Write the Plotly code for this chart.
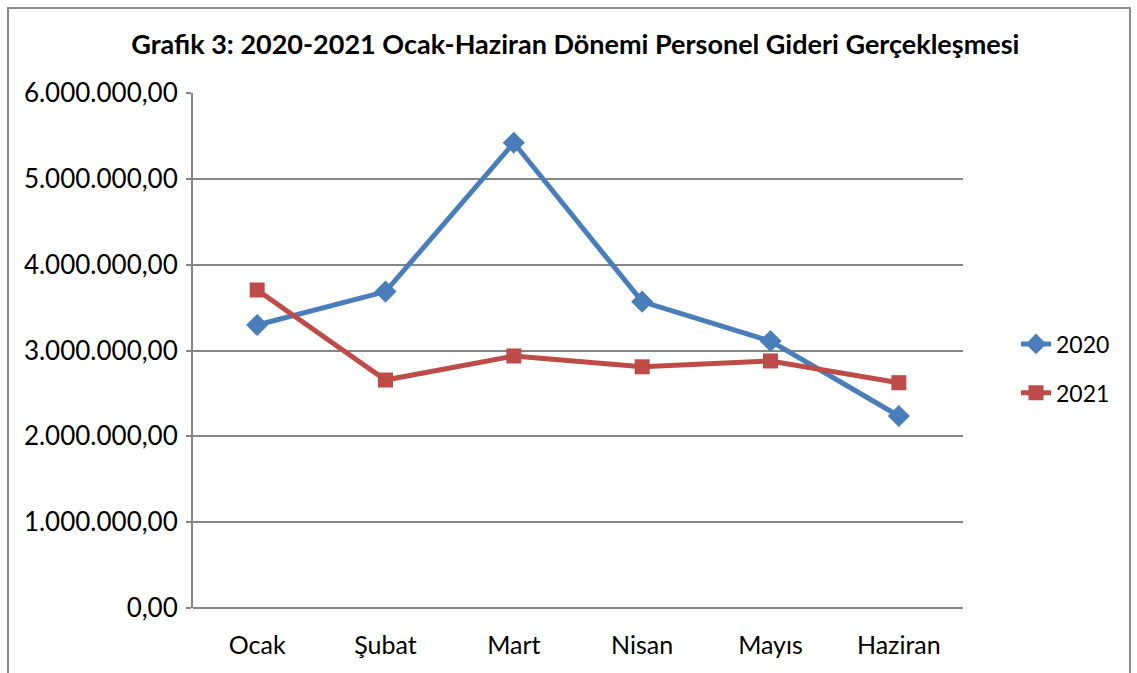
import plotly.graph_objects as go

months = ["Ocak", "Şubat", "Mart", "Nisan", "Mayıs", "Haziran"]
values_2020 = [3297000, 3686000, 5420000, 3569000, 3110000, 2237000]
values_2021 = [3705000, 2656000, 2936000, 2810000, 2878000, 2625000]
y_tickvals = [0, 1000000, 2000000, 3000000, 4000000, 5000000, 6000000]
y_ticktext = ["0,00", "1.000.000,00", "2.000.000,00", "3.000.000,00",
              "4.000.000,00", "5.000.000,00", "6.000.000,00"]
title_text = "Grafik 3: 2020-2021 Ocak-Haziran Dönemi Personel Gideri Gerçekleşmesi"

FONT = "Lato, 'Open Sans', sans-serif"
BLUE = "#4A7EBB"
RED = "#BE4B48"
GRID = "#868686"

fig = go.Figure()
fig.add_trace(go.Scatter(
    x=months, y=values_2020, name="2020", mode="lines+markers",
    legendgroup="a",
    line=dict(color=BLUE, width=5),
    marker=dict(symbol="diamond", size=17, color=BLUE),
))
fig.add_trace(go.Scatter(
    x=months, y=values_2021, name="2021", mode="lines+markers",
    legendgroup="b",
    line=dict(color=RED, width=5),
    marker=dict(symbol="square", size=15, color=RED),
))

L, R, T, B = 193, 174, 93, 65
W, H = 1137, 673
pw = W - L - R
ph = H - T - B

fig.update_layout(
    width=W, height=H,
    margin=dict(l=L, r=R, t=T, b=B, autoexpand=False),
    paper_bgcolor="white", plot_bgcolor="white",
    font=dict(family=FONT, size=24, color="black"),
    title=dict(text="<b>" + title_text + "</b>", x=0.506, xanchor="center",
               y=1 - 45 / H, yanchor="middle",
               font=dict(family=FONT, size=27, color="black")),
    legend=dict(x=(1016 - L) / pw, xanchor="left", y=(608 - 368.5) / ph,
                yanchor="middle", font=dict(size=23), traceorder="grouped",
                tracegroupgap=16, bgcolor="rgba(0,0,0,0)"),
    showlegend=True,
    xaxis=dict(range=[-0.5, len(months) - 0.5],
               showgrid=False, showline=False, zeroline=False,
               ticks="", ticklabelstandoff=20, tickfont=dict(size=25)),
    yaxis=dict(range=[0, 6000000], tickvals=y_tickvals, ticktext=y_ticktext,
               showgrid=True, gridcolor=GRID, gridwidth=2,
               showline=True, linecolor=GRID, linewidth=2,
               zeroline=False, ticks="outside", ticklen=5, tickcolor=GRID,
               tickwidth=2, ticklabelstandoff=3, tickfont=dict(size=26)),
)

# bottom axis line
fig.add_shape(type="line", xref="paper", yref="paper", x0=0, x1=1, y0=0, y1=0,
              line=dict(color=GRID, width=2), layer="below")
# outer chart border
fig.add_shape(type="rect", xref="paper", yref="paper",
              x0=(8 - L) / pw, x1=(1130 - L) / pw,
              y0=-(B + 10) / ph, y1=1 + (T - 8) / ph,
              line=dict(color="#8c8c8c", width=2), layer="below")

fig.write_html("out.html", config={"displayModeBar": False},
               post_script="document.body.style.margin='0';")
